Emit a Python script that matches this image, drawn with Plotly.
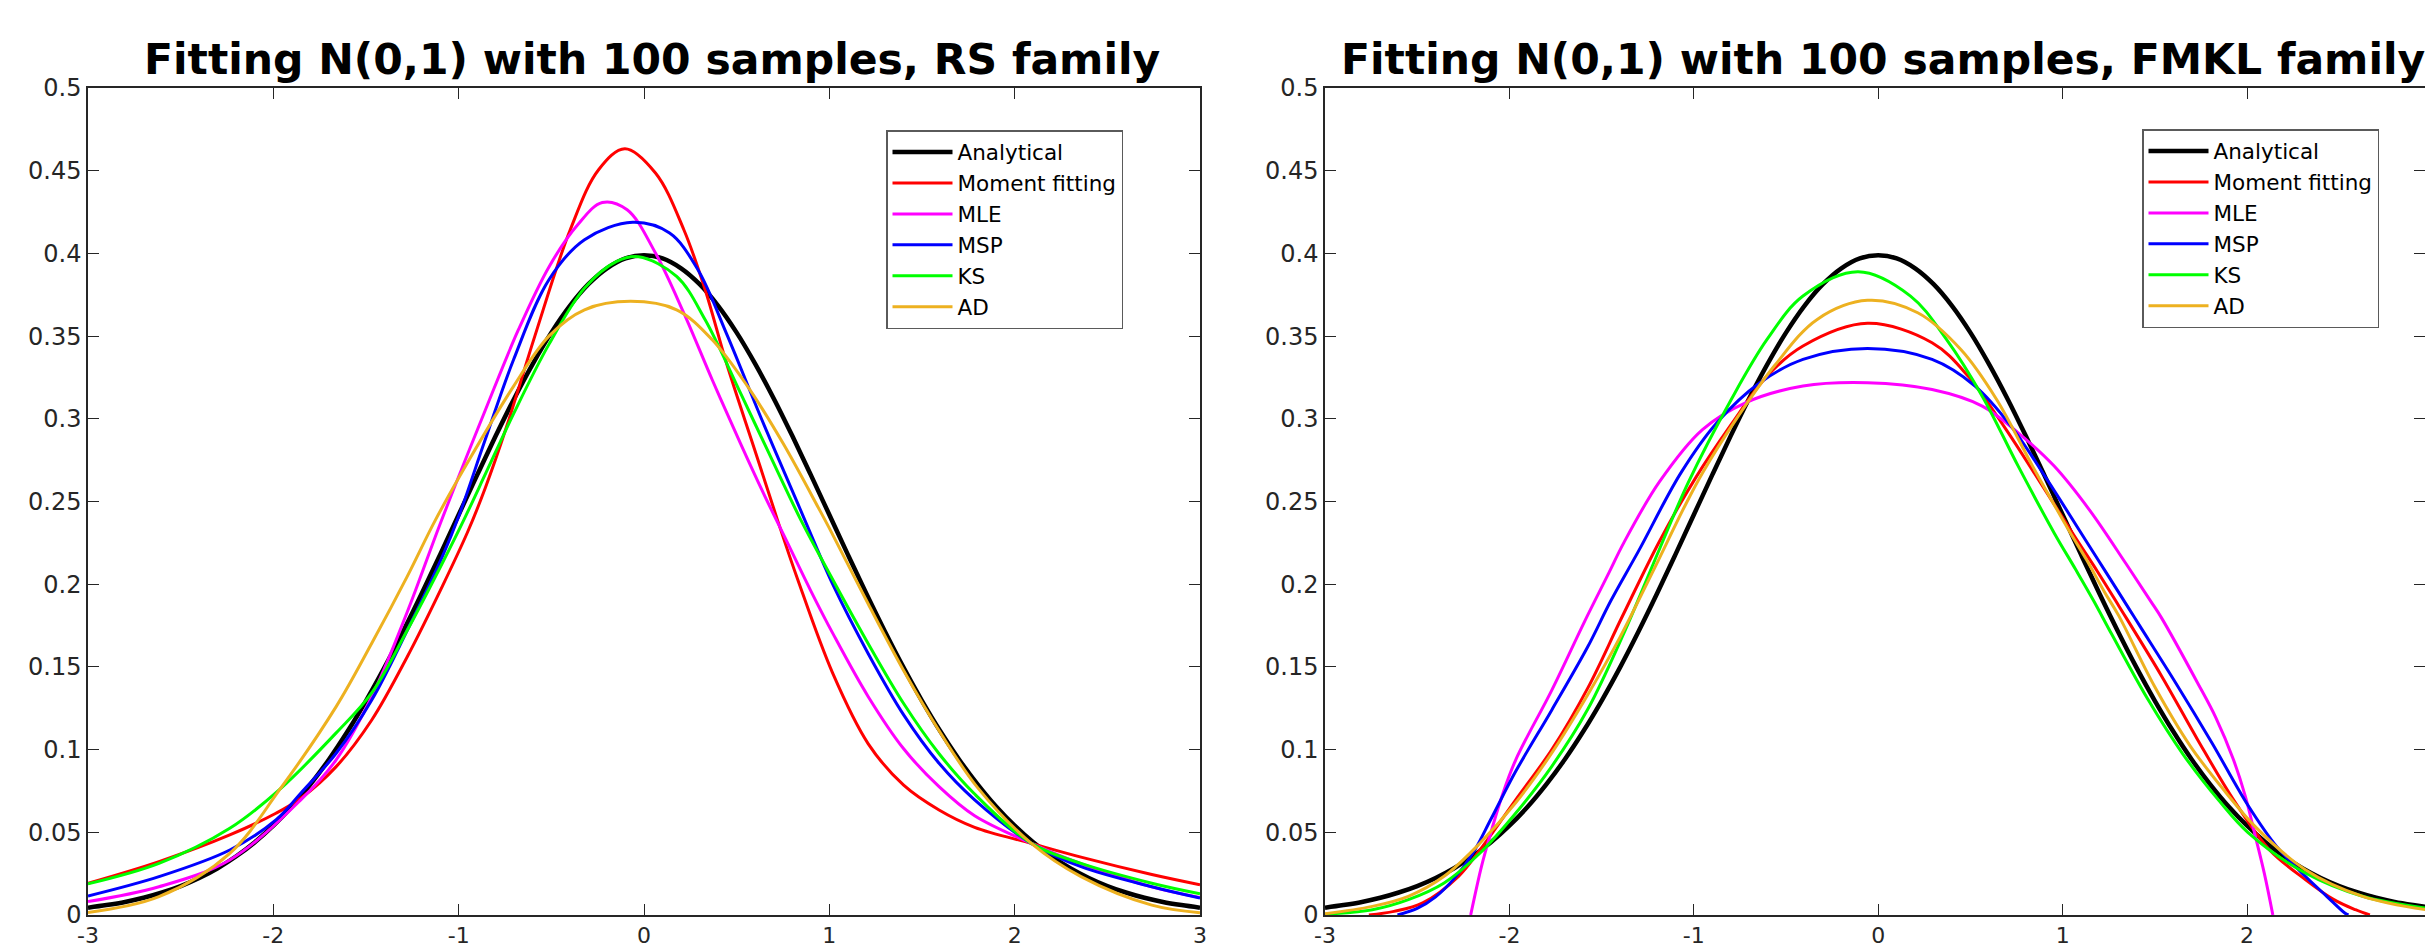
import plotly.graph_objects as go

# ---------------- data ----------------
series_names = ["Analytical", "Moment fitting", "MLE", "MSP", "KS", "AD"]
series_colors = ["#000000", "#FF0000", "#FF00FF", "#0000FF", "#00FF00", "#EDB120"]
x_ticks = [-3, -2, -1, 0, 1, 2, 3]
x_tick_text = ["-3", "-2", "-1", "0", "1", "2", "3"]
y_ticks = [0, 0.05, 0.1, 0.15, 0.2, 0.25, 0.3, 0.35, 0.4, 0.45, 0.5]
y_tick_text = ["0", "0.05", "0.1", "0.15", "0.2", "0.25", "0.3", "0.35", "0.4", "0.45", "0.5"]
titles = ["Fitting N(0,1) with 100 samples, RS family",
          "Fitting N(0,1) with 100 samples, FMKL family"]

# Analytical N(0,1) (both panels)
an_x = [-3.0, -2.9, -2.8, -2.7, -2.6, -2.5, -2.4, -2.3, -2.2, -2.1, -2.0, -1.9, -1.8, -1.7,
        -1.6, -1.5, -1.4, -1.3, -1.2, -1.1, -1.0, -0.9, -0.8, -0.7, -0.6, -0.5, -0.4, -0.3,
        -0.2, -0.1, 0.0, 0.1, 0.2, 0.3, 0.4, 0.5, 0.6, 0.7, 0.8, 0.9, 1.0, 1.1, 1.2, 1.3, 1.4,
        1.5, 1.6, 1.7, 1.8, 1.9, 2.0, 2.1, 2.2, 2.3, 2.4, 2.5, 2.6, 2.7, 2.8, 2.9, 3.0]
an_y = [0.0044, 0.0060, 0.0079, 0.0104, 0.0136, 0.0175, 0.0224, 0.0283, 0.0355, 0.0440,
        0.0540, 0.0656, 0.0790, 0.0940, 0.1109, 0.1295, 0.1497, 0.1714, 0.1942, 0.2179,
        0.2420, 0.2661, 0.2897, 0.3123, 0.3332, 0.3521, 0.3683, 0.3814, 0.3910, 0.3970,
        0.3989, 0.3970, 0.3910, 0.3814, 0.3683, 0.3521, 0.3332, 0.3123, 0.2897, 0.2661,
        0.2420, 0.2179, 0.1942, 0.1714, 0.1497, 0.1295, 0.1109, 0.0940, 0.0790, 0.0656,
        0.0540, 0.0440, 0.0355, 0.0283, 0.0224, 0.0175, 0.0136, 0.0104, 0.0079, 0.0060, 0.0044]

# ---- RS family panel ----
rs_mom_x = [-3, -2.617, -2.235, -1.986, -1.852, -1.661, -1.469, -1.278, -1.087, -0.95, -0.857,
            -0.742, -0.589, -0.398, -0.245, -0.103, 0.062, 0.215, 0.33, 0.444, 0.598, 0.72, 0.827,
            1.018, 1.21, 1.401, 1.592, 1.784, 2.09, 2.358, 2.74, 3]
rs_mom_y = [0.0192, 0.0323, 0.0484, 0.0615, 0.0706, 0.0897, 0.1179, 0.156, 0.199, 0.232, 0.258,
            0.295, 0.350, 0.4143, 0.4506, 0.4633, 0.4486, 0.4143, 0.378, 0.334, 0.281, 0.2389,
            0.2036, 0.1462, 0.1035, 0.0785, 0.0635, 0.053, 0.0433, 0.0350, 0.0245, 0.0183]

rs_mle_x = [-3, -2.617, -2.235, -1.852, -1.661, -1.469, -1.278, -1.098, -0.857, -0.677, -0.512,
            -0.36, -0.225, -0.091, 0.062, 0.215, 0.368, 0.521, 0.636, 0.77, 0.9, 1.018, 1.21,
            1.401, 1.592, 1.784, 2.09, 2.358, 2.74, 3]
rs_mle_y = [0.0081, 0.0171, 0.0333, 0.0696, 0.0938, 0.132, 0.183, 0.237, 0.305, 0.354, 0.392,
            0.417, 0.4308, 0.4264, 0.4002, 0.3639, 0.3236, 0.285, 0.257, 0.226, 0.196, 0.1704,
            0.132, 0.1005, 0.0776, 0.060, 0.0433, 0.031, 0.017, 0.0105]

rs_msp_x = [-3, -2.617, -2.235, -1.986, -1.852, -1.661, -1.469, -1.278, -1.087, -0.998, -0.857,
            -0.704, -0.513, -0.321, -0.061, 0.138, 0.291, 0.444, 0.636, 0.827, 0.884, 1.018, 1.21,
            1.401, 1.592, 1.784, 2.09, 2.358, 2.74, 3]
rs_msp_y = [0.0115, 0.0232, 0.0393, 0.0575, 0.0736, 0.0978, 0.130, 0.172, 0.217, 0.2415, 0.2873,
            0.3357, 0.3841, 0.4083, 0.4188, 0.4123, 0.3901, 0.3518, 0.2994, 0.2495, 0.2345, 0.200,
            0.158, 0.121, 0.0917, 0.0696, 0.0433, 0.0292, 0.0171, 0.0103]

rs_ks_x = [-3, -2.617, -2.235, -1.967, -1.661, -1.469, -1.278, -1.087, -0.972, -0.85, -0.704,
           -0.513, -0.321, -0.15, -0.03, 0.176, 0.33, 0.521, 0.674, 0.846, 0.98, 1.2, 1.4, 1.59,
           1.78, 2.09, 2.358, 2.74, 3]
rs_ks_y = [0.0188, 0.0312, 0.0524, 0.0758, 0.1101, 0.1343, 0.172, 0.213, 0.2389, 0.268, 0.303,
           0.345, 0.379, 0.395, 0.398, 0.3861, 0.3599, 0.3155, 0.2792, 0.2389, 0.2107, 0.166,
           0.128, 0.0978, 0.0736, 0.0433, 0.0312, 0.0192, 0.0128]

rs_ad_x = [-3, -2.617, -2.235, -1.967, -1.661, -1.469, -1.278, -1.125, -0.933, -0.704, -0.513,
           -0.321, -0.072, 0.176, 0.368, 0.559, 0.751, 0.942, 1.011, 1.21, 1.4, 1.6, 1.8, 2.09,
           2.358, 2.74, 3]
rs_ad_y = [0.0015, 0.0111, 0.0373, 0.0756, 0.126, 0.1643, 0.2046, 0.2389, 0.2772, 0.3196, 0.35,
           0.3659, 0.371, 0.3659, 0.3478, 0.3196, 0.285, 0.246, 0.2315, 0.188, 0.148, 0.110,
           0.077, 0.0433, 0.0232, 0.006, 0.0014]

# ---- FMKL family panel ----
fm_mom_x = [-2.762, -2.626, -2.47, -2.276, -2.159, -1.965, -1.77, -1.576, -1.39, -1.186, -0.992,
            -0.797, -0.603, -0.408, -0.058, 0.292, 0.487, 0.681, 0.876, 1.07, 1.187, 1.304,
            1.537, 1.732, 1.926, 2.121, 2.316, 2.471, 2.588, 2.666]
fm_mom_y = [0.0, 0.0022, 0.0073, 0.0234, 0.0395, 0.0698, 0.1, 0.137, 0.18, 0.226, 0.264,
            0.2966, 0.3258, 0.344, 0.3577, 0.346, 0.3258, 0.2956, 0.262, 0.228, 0.208, 0.187,
            0.1444, 0.106, 0.0698, 0.0395, 0.0214, 0.0093, 0.0032, 0.0]

fm_mle_x = [-2.21, -2.15, -2.1, -2.04, -1.965, -1.77, -1.59, -1.46, -1.38, -1.186, -0.953, -0.72,
            -0.408, -0.058, 0.292, 0.564, 0.759, 0.954, 1.148, 1.343, 1.479, 1.537, 1.732, 1.83,
            1.926, 1.99, 2.043, 2.094, 2.14]
fm_mle_y = [0.0, 0.03, 0.05, 0.072, 0.094, 0.136, 0.178, 0.207, 0.225, 0.262, 0.2935, 0.3097,
            0.3198, 0.3218, 0.3177, 0.3077, 0.2915, 0.2714, 0.2445, 0.2125, 0.1895, 0.1795,
            0.1403, 0.1195, 0.094, 0.072, 0.0485, 0.025, 0.0]

fm_msp_x = [-2.607, -2.5, -2.4, -2.3, -2.2, -2.1, -1.965, -1.77, -1.576, -1.45, -1.3, -1.07,
            -0.875, -0.642, -0.408, -0.058, 0.292, 0.525, 0.72, 0.914, 1.148, 1.226, 1.362, 1.42,
            1.615, 1.81, 2.004, 2.16, 2.316, 2.432, 2.53, 2.55]
fm_msp_y = [0.0, 0.004, 0.011, 0.022, 0.037, 0.058, 0.087, 0.124, 0.162, 0.19, 0.22, 0.2673,
            0.2976, 0.3218, 0.3359, 0.3425, 0.3359, 0.3198, 0.2956, 0.2635, 0.2225, 0.2088,
            0.1848, 0.1745, 0.140, 0.104, 0.0665, 0.0415, 0.0234, 0.0113, 0.0012, 0.0]

fm_ks_x = [-3, -2.743, -2.548, -2.354, -2.159, -1.965, -1.77, -1.576, -1.381, -1.187, -1.031,
           -0.797, -0.603, -0.408, -0.109, 0.175, 0.37, 0.564, 0.759, 0.954, 1.07, 1.168, 1.265,
           1.459, 1.654, 1.849, 2.004, 2.316, 2.627, 2.969]
fm_ks_y = [0.0005, 0.0032, 0.0093, 0.0194, 0.0375, 0.0617, 0.0899, 0.1242, 0.170, 0.221, 0.2613,
           0.3117, 0.348, 0.3742, 0.3889, 0.3742, 0.348, 0.3137, 0.2714, 0.231, 0.209, 0.19, 0.17,
           0.131, 0.097, 0.069, 0.05, 0.0254, 0.0113, 0.0042]

fm_ad_x = [-3, -2.743, -2.548, -2.354, -2.159, -1.965, -1.77, -1.576, -1.4, -1.225, -1.05, -0.953,
           -0.759, -0.564, -0.331, -0.058, 0.214, 0.448, 0.642, 0.837, 1.031, 1.129, 1.226, 1.304,
           1.498, 1.693, 1.887, 2.043, 2.316, 2.627, 2.969]
fm_ad_y = [0.0008, 0.0052, 0.0113, 0.0234, 0.0435, 0.068, 0.098, 0.133, 0.168, 0.207, 0.247,
           0.2673, 0.3016, 0.3319, 0.3601, 0.3716, 0.3641, 0.3419, 0.3117, 0.2714, 0.2331, 0.2149,
           0.1955, 0.181, 0.1383, 0.102, 0.0738, 0.0536, 0.0274, 0.0113, 0.0032]

rs_series = [(an_x, an_y), (rs_mom_x, rs_mom_y), (rs_mle_x, rs_mle_y),
             (rs_msp_x, rs_msp_y), (rs_ks_x, rs_ks_y), (rs_ad_x, rs_ad_y)]
fm_series = [(an_x, an_y), (fm_mom_x, fm_mom_y), (fm_mle_x, fm_mle_y),
             (fm_msp_x, fm_msp_y), (fm_ks_x, fm_ks_y), (fm_ad_x, fm_ad_y)]

# ---------------- figure ----------------
W, H = 2425, 951
FONT = "DejaVu Sans"
AX = "#262626"

fig = go.Figure()
for panel, series in enumerate([rs_series, fm_series]):
    for i, (xs, ys) in enumerate(series):
        fig.add_trace(go.Scatter(
            x=xs, y=ys, mode="lines", name=series_names[i],
            line=dict(color=series_colors[i], width=4.5 if i == 0 else 3,
                      shape="spline", smoothing=1.0),
            xaxis="x" if panel == 0 else "x2",
            yaxis="y" if panel == 0 else "y2",
            legend="legend" if panel == 0 else "legend2",
            showlegend=True,
        ))

def px_x(p):
    return p / W

def px_y(p):
    return (H - p) / H

axis_common = dict(
    showline=True, linecolor=AX, linewidth=1.5, mirror="ticks",
    ticks="inside", ticklen=11, tickwidth=1, tickcolor=AX,
    showgrid=False, zeroline=False, automargin=False,
)
y_font = dict(family=FONT, size=24, color=AX)
x_font = dict(family=FONT, size=22, color=AX)

legend_common = dict(
    xanchor="left", yanchor="top", bgcolor="white", bordercolor="#5a5a5a",
    borderwidth=1.5, font=dict(family=FONT, size=21.5, color="#000"),
    itemwidth=60, tracegroupgap=0,
)

ydom = [px_y(915), px_y(88)]
fig.update_layout(
    width=W, height=H,
    margin=dict(l=0, r=0, t=0, b=0, autoexpand=False),
    paper_bgcolor="white", plot_bgcolor="white",
    xaxis=dict(domain=[px_x(88), px_x(1200)], range=[-3, 3], anchor="y",
               tickvals=x_ticks, ticktext=x_tick_text, tickfont=x_font, **axis_common),
    yaxis=dict(domain=ydom, range=[0, 0.5], anchor="x",
               tickvals=y_ticks, ticktext=y_tick_text, tickfont=y_font, **axis_common),
    xaxis2=dict(domain=[px_x(1325), 1.0], range=[-3, 2.965], anchor="y2",
                tickvals=x_ticks, ticktext=x_tick_text, tickfont=x_font, **axis_common),
    yaxis2=dict(domain=ydom, range=[0, 0.5], anchor="x2",
                tickvals=y_ticks, ticktext=y_tick_text, tickfont=y_font, **axis_common),
    legend=dict(x=px_x(886), y=px_y(130), **legend_common),
    legend2=dict(x=px_x(2142), y=px_y(129), **legend_common),
    annotations=[
        dict(text="<b>" + titles[0] + "</b>", x=px_x(652), y=px_y(86),
             xref="paper", yref="paper", xanchor="center", yanchor="bottom",
             showarrow=False, font=dict(family=FONT, size=42.5, color="#000")),
        dict(text="<b>" + titles[1] + "</b>", x=px_x(1883), y=px_y(86),
             xref="paper", yref="paper", xanchor="center", yanchor="bottom",
             showarrow=False, font=dict(family=FONT, size=42.5, color="#000")),
    ],
)

fig.write_html(
    "out.html",
    config={"displayModeBar": False},
    post_script="document.body.style.margin='0px';document.body.style.overflow='hidden';",
)
